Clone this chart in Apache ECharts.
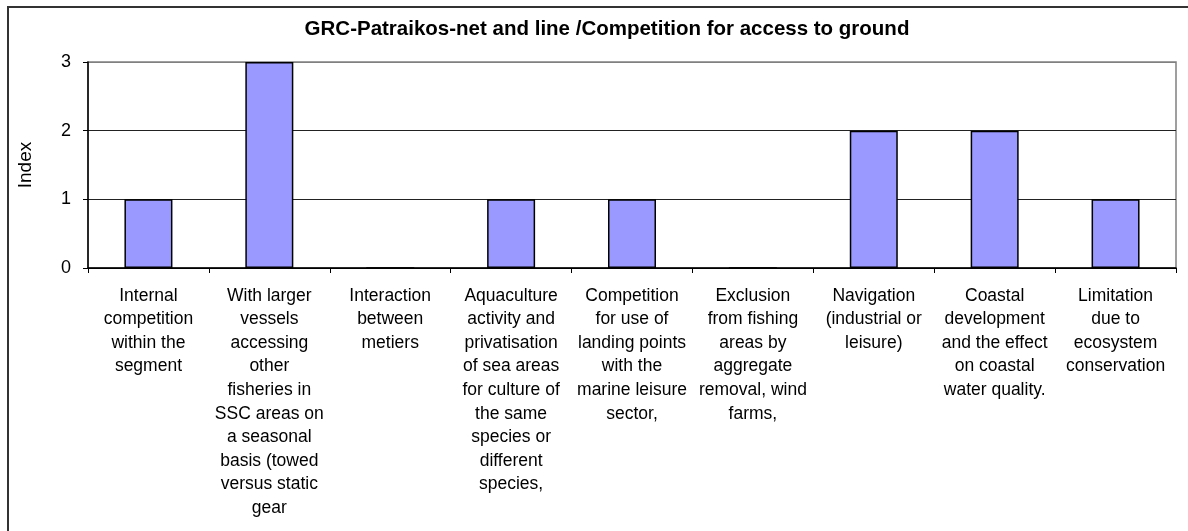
<!DOCTYPE html>
<html>
<head>
<meta charset="utf-8">
<script src="https://cdn.jsdelivr.net/npm/echarts@6/dist/echarts.min.js"></script>
<style>
html,body{margin:0;padding:0;background:#fff;}
#chart{width:1188px;height:531px;}
</style>
</head>
<body>
<div id="chart"></div>
<script>
const chartTitle = "GRC-Patraikos-net and line /Competition for access to ground";
const yAxisName = "Index";
const categories = [
  "Internal\ncompetition\nwithin the\nsegment",
  "With larger\nvessels\naccessing\nother\nfisheries in\nSSC areas on\na seasonal\nbasis (towed\nversus static\ngear",
  "Interaction\nbetween\nmetiers",
  "Aquaculture\nactivity and\nprivatisation\nof sea areas\nfor culture of\nthe same\nspecies or\ndifferent\nspecies,",
  "Competition\nfor use of\nlanding points\nwith the\nmarine leisure\nsector,",
  "Exclusion\nfrom fishing\nareas by\naggregate\nremoval, wind\nfarms,",
  "Navigation\n(industrial or\nleisure)",
  "Coastal\ndevelopment\nand the effect\non coastal\nwater quality.",
  "Limitation\ndue to\necosystem\nconservation"
];
const values = [1, 3, 0, 1, 1, 0, 2, 2, 1];

const chart = echarts.init(document.getElementById('chart'), null, {renderer: 'canvas'});
const font = 'Arial, "Liberation Sans", sans-serif';
chart.setOption({
  animation: false,
  backgroundColor: '#ffffff',
  graphic: [{
    type: 'rect',
    shape: {x: 8, y: 7, width: 1300, height: 700},
    style: {fill: 'none', stroke: '#333333', lineWidth: 2},
    silent: true
  }],
  title: {
    text: chartTitle,
    left: 602,
    textAlign: 'center',
    top: 14,
    textStyle: {fontFamily: font, fontSize: 20.5, fontWeight: 'bold', color: '#000'}
  },
  grid: {
    left: 88, right: 12, top: 62, bottom: 263,
    show: true, borderColor: '#808080', borderWidth: 1.5, backgroundColor: 'transparent'
  },
  xAxis: {
    type: 'category',
    data: categories,
    axisLine: {lineStyle: {color: '#000', width: 1.5}},
    axisTick: {show: true, length: 5, lineStyle: {color: '#000'}},
    axisLabel: {
      interval: 0, margin: 16, fontFamily: font, fontSize: 17.5, color: '#000',
      lineHeight: 23.6, align: 'center'
    },
    splitLine: {show: false}
  },
  yAxis: {
    type: 'value',
    min: 0, max: 3, interval: 1,
    name: yAxisName,
    nameLocation: 'middle',
    nameGap: 53,
    nameRotate: 90,
    nameTextStyle: {fontFamily: font, fontSize: 19, color: '#000'},
    axisLine: {show: true, lineStyle: {color: '#000', width: 1.5}},
    axisTick: {show: true, length: 5, lineStyle: {color: '#000'}},
    axisLabel: {margin: 17, fontFamily: font, fontSize: 18, color: '#000'},
    splitLine: {show: true, lineStyle: {color: ['#000', '#222', '#222', '#808080'], width: 1}}
  },
  series: [{
    type: 'bar',
    data: values,
    barWidth: 48,
    itemStyle: {color: '#9999FF', borderColor: '#000', borderWidth: 1.5}
  }]
});
</script>
</body>
</html>
